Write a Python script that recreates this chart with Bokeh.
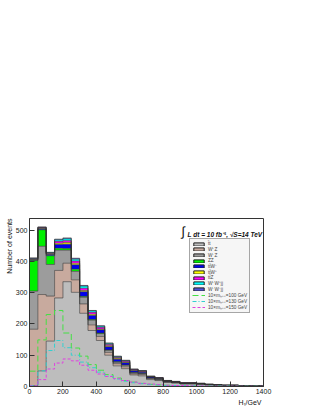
import numpy as np
from bokeh.plotting import figure
from bokeh.models import Legend, LegendItem, Range1d, ColumnDataSource, Label, Title
from bokeh.embed import file_html
from bokeh.resources import INLINE

# ---- data (50 GeV bins, 0..1400 GeV) ----
bin_width = 50
x_max = 1400
tt =     [3, 50, 145, 283, 335, 301, 234, 179, 147, 100, 66, 57, 37, 34, 22, 19, 13, 11, 8, 8, 7, 5, 4, 3, 3, 2, 1.5, 1.5]
WpZ =    [180, 244, 144, 88, 59, 40, 30, 18, 13, 9, 7, 6, 4, 4, 3, 2, 1.5, 1.2, 1, 1, 0.8, 0.5, 0.5, 0.3, 0.3, 0.3, 0.2, 0.2]
WmZ =    [122, 154, 101, 65, 42, 27, 21, 15, 9, 7, 5, 5, 3, 3, 2, 2, 1.2, 1, 0.8, 0.8, 0.6, 0.4, 0.4, 0.2, 0.2, 0.2, 0.1, 0.1]
ZZ =     [98, 53, 28, 6, 5, 7, 3, 2, 2, 1, 1, 1, 1, 0.5, 0.3, 0.3, 0.2, 0.2, 0.1, 0.1, 0.1, 0.1, 0.1, 0.1, 0.1, 0.1, 0, 0]
ttWm =   [2, 3, 4, 12, 14, 14, 15, 13, 10, 10, 8, 7, 5, 4, 3, 2.5, 1.8, 1.5, 1, 1, 0.8, 0.6, 0.5, 0.2, 0.2, 0.2, 0.1, 0.1]
ttWp =   [2, 2, 2, 4, 5, 5, 4, 4, 3, 3, 3, 2, 2, 2, 1, 1, 0.6, 0.5, 0.4, 0.4, 0.3, 0.2, 0.2, 0.1, 0.1, 0.1, 0.05, 0.05]
ttZ =    [1, 2, 2, 6, 6, 7, 7, 6, 5, 4, 3, 3, 2, 2, 1, 1, 0.6, 0.5, 0.4, 0.4, 0.3, 0.2, 0.2, 0.1, 0.1, 0.1, 0.05, 0.05]
WpWpjj = [2, 1, 2, 5, 6, 6, 7, 5, 4, 4, 3, 2, 1, 1, 0.5, 0.5, 0.3, 0.3, 0.2, 0.2, 0.2, 0.1, 0.1, 0.1, 0.1, 0.05, 0.05, 0.05]
WmWmjj = [1, 1, 1, 2, 3, 3, 2, 1, 1, 1, 1, 1, 1, 0.5, 0.2, 0.2, 0.1, 0.1, 0.1, 0.1, 0.1, 0.05, 0.05, 0.05, 0.05, 0.05, 0.05, 0.05]

sig100 = [49, 149, 230, 243, 171, 123, 97, 70, 52, 38, 27, 19, 14, 10, 7, 5, 4, 3, 2, 2, 1, 1, 1, 1, 0.5, 0.5, 0.5, 0.5]
sig130 = [3, 50, 115, 147, 124, 100, 78, 60, 46, 33, 24, 17, 12, 9, 6, 5, 3, 3, 2, 2, 1, 1, 1, 1, 0.5, 0.5, 0.5, 0.5]
sig150 = [2, 22, 56, 75, 88, 82, 68, 52, 40, 32, 25, 19, 14, 10, 8, 6, 4, 3, 3, 2, 2, 1, 1, 1, 1, 0.5, 0.5, 0.5]

bkg_names = ["t\u0304t", "W\u207aZ", "W\u207bZ", "ZZ", "tt\u0304W\u207b", "tt\u0304W\u207a", "tt\u0304Z",
             "W\u207aW\u207ajj", "W\u207bW\u207bjj"]
bkg_values = [tt, WpZ, WmZ, ZZ, ttWm, ttWp, ttZ, WpWpjj, WmWmjj]
bkg_colors = ["#bdbdbd", "#c8aa9e", "#9c9c9c", "#00f000", "#0000ee", "#ffff00", "#ff00ff", "#00ffff", "#5252d6"]

sig_names = ["10\u00d7m\u2095\u208a\u208a=100 GeV", "10\u00d7m\u2095\u208a\u208a=130 GeV", "10\u00d7m\u2095\u208a\u208a=150 GeV"]
sig_values = [sig100, sig130, sig150]
sig_colors = ["#44e044", "#33d0d0", "#e040e0"]
sig_dashes = ["6 3", "4 2 1 2", "3 2"]

x_ticks = [0, 200, 400, 600, 800, 1000, 1200, 1400]
y_ticks = [0, 100, 200, 300, 400, 500]
y_max = 537

edges = np.arange(0, x_max + bin_width, bin_width)

FONT = "Liberation Sans"

p = figure(width=308, height=407, x_range=Range1d(0, x_max), y_range=Range1d(0, y_max),
           output_backend="svg", toolbar_location=None,
           min_border_left=29, min_border_right=45, min_border_top=218, min_border_bottom=21)
p.grid.visible = False
p.outline_line_color = "#333333"
p.outline_line_width = 1
p.background_fill_color = "white"
p.border_fill_color = "white"

for ax in (p.xaxis[0], p.yaxis[0]):
    ax.major_tick_in = 5
    ax.major_tick_out = 0
    ax.minor_tick_in = 3
    ax.minor_tick_out = 0
    ax.axis_line_color = "#333333"
    ax.major_tick_line_color = "#333333"
    ax.minor_tick_line_color = "#333333"
    ax.major_label_text_font = FONT
    ax.major_label_text_font_size = "7px"
    ax.major_label_text_color = "#222222"
    ax.major_label_standoff = 2
p.xaxis.ticker = x_ticks
p.yaxis.ticker = y_ticks
p.xaxis[0].ticker.num_minor_ticks = 5
p.yaxis[0].ticker.num_minor_ticks = 5

# ---- stacked backgrounds ----
cum = np.cumsum(np.array(bkg_values, dtype=float), axis=0)
lower = np.vstack([np.zeros(len(tt)), cum[:-1]])
for k in range(len(bkg_values) - 1, -1, -1):
    y1 = np.append(lower[k], lower[k][-1])
    y2 = np.append(cum[k], cum[k][-1])
    src = ColumnDataSource(dict(x=edges, y1=y1, y2=y2))
    p.varea_step(x="x", y1="y1", y2="y2", step_mode="after", source=src,
                 fill_color=bkg_colors[k])
for k in range(len(bkg_values)):
    y2 = np.append(cum[k], cum[k][-1])
    p.step(x=edges, y=y2, mode="after", line_color="#333333", line_width=0.6)

legend_items = []
for k in range(len(bkg_values)):
    proxy = p.quad(left=[np.nan], right=[np.nan], top=[np.nan], bottom=[np.nan],
                   fill_color=bkg_colors[k], line_color="#222222", line_width=1)
    legend_items.append(LegendItem(label=bkg_names[k], renderers=[proxy]))

# ---- signals ----
for k in range(len(sig_values)):
    y = np.append(sig_values[k], sig_values[k][-1])
    r = p.step(x=edges, y=y, mode="after", line_color=sig_colors[k], line_width=1,
               line_dash=sig_dashes[k])
    legend_items.append(LegendItem(label=sig_names[k], renderers=[r]))

legend = Legend(items=legend_items, location=(160, 73), label_text_font=FONT,
                label_text_font_size="4.7px", label_height=5, glyph_height=4, glyph_width=13,
                spacing=0, padding=2, margin=0, label_standoff=3,
                border_line_color="#555555", border_line_width=1,
                background_fill_color="#f6f6f6", background_fill_alpha=1)
p.add_layout(legend, "center")

# ---- texts ----
p.add_layout(Label(x=909, y=494, text="\u222b", text_font=FONT, text_font_size="13px",
                   text_baseline="middle", text_align="left", text_color="#111111"))
p.add_layout(Label(x=946, y=487, text="L dt = 10 fb\u207b\u00b9, \u221aS=14 TeV", text_font=FONT,
                   text_font_size="6.5px", text_font_style="bold italic",
                   text_baseline="alphabetic", text_align="left", text_color="#111111"))

p.add_layout(Title(text="Number of events", align="right", text_font=FONT,
                   text_font_size="7px", text_font_style="normal", text_color="#111111",
                   standoff=0, offset=0), "left")
p.add_layout(Title(text="H\u209c/GeV", align="right", text_font=FONT,
                   text_font_size="7px", text_font_style="normal", text_color="#111111",
                   standoff=0, offset=2), "below")

open("out.html", "w").write(file_html(p, INLINE))
